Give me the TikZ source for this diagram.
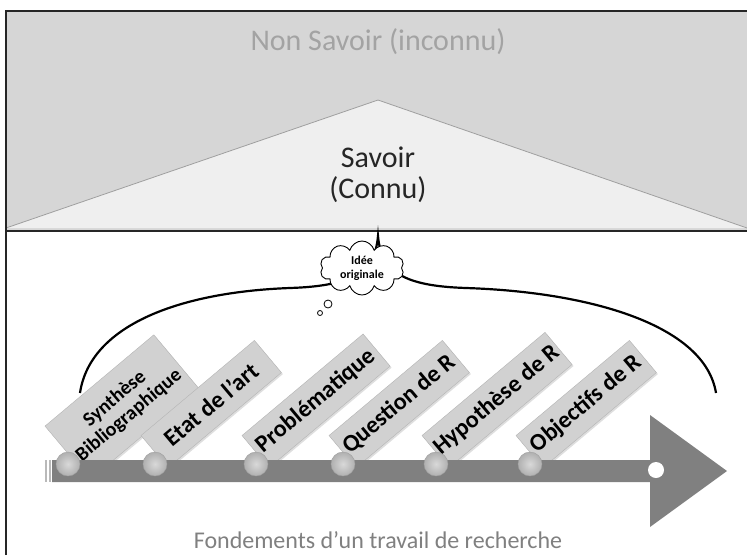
\documentclass[tikz,border=0pt]{standalone}
\usepackage{fontspec}
\setmainfont{Carlito}
\usetikzlibrary{shapes.symbols,shadows}
\definecolor{topgray}{HTML}{D6D6D6}
\definecolor{trifill}{HTML}{EFEFEF}
\definecolor{boxfill}{HTML}{D1D1D1}
\definecolor{boxline}{HTML}{B4B4B4}
\definecolor{arrowgray}{HTML}{808080}
\definecolor{lighttext}{HTML}{A3A3A3}
\begin{document}
\begin{tikzpicture}[x=1pt,y=-1pt,
  stepbox/.style={draw=boxline, fill=boxfill, rotate=40, anchor=south west,
    inner sep=2pt, align=center, font=\bfseries\fontsize{24}{25}\selectfont,
    minimum height=42pt, minimum width=148pt,
    drop shadow={shadow xshift=1.5pt, shadow yshift=-1.5pt, fill=black!25}},
  milestone/.style={circle, minimum size=24pt, inner sep=0pt, draw=gray!75,
    shading=radial, inner color=gray!30, outer color=gray!62},
  bigtext/.style={font=\fontsize{30}{31}\selectfont, align=center}]
\useasboundingbox (0,0) rectangle (747,555);
\fill[white] (0,0) rectangle (747,555);

% upper panel: unknown field and the triangle of knowledge
\fill[topgray] (6,11) rectangle (747,231);
\filldraw[fill=trifill, draw=gray!75, line width=0.8pt] (6,228) -- (378,100) -- (747,228);
\draw[line width=2pt, black!85] (6,555) -- (6,11) -- (747,11);
\draw[line width=2pt, black!85] (6,231) -- (747,231);
\node[bigtext, text=lighttext] (nonsavoir) at (378,42) {Non Savoir (inconnu)};
\node[bigtext, text=black!85] (savoir) at (378,175) {Savoir\\(Connu)};

% curly brace gathering the steps
\draw[line width=2.2pt] (80,393) .. controls (90,325) and (180,292) .. (290,288)
  .. controls (352,286) and (375,272) .. (378,236)
  .. controls (381,272) and (404,286) .. (466,288)
  .. controls (590,292) and (705,325) .. (716,393);

% steps of the research work (their lower corners tuck under the arrow)
\node[stepbox, minimum width=142pt, minimum height=70pt,
  font=\bfseries\fontsize{20}{22}\selectfont] (s1) at (90,480) {Synthèse\\Bibliographique};
\node[stepbox] (s2) at (168,468) {Etat de l'art};
\node[stepbox, minimum width=158pt] (s3) at (269,468) {Problématique};
\node[stepbox] (s4) at (356,468) {Question de R};
\node[stepbox, minimum width=155pt] (s5) at (449,468) {Hypothèse de R};
\node[stepbox] (s6) at (543,468) {Objectifs de R};

% timeline arrow
\fill[arrowgray] (52,460) -- (650,460) -- (650,415) -- (727,471) -- (650,527)
  -- (650,482) -- (52,482) -- cycle;
\draw[gray!55, line width=1.6pt] (46,460) -- (46,482) (50,460) -- (50,482);
\node[circle, fill=white, minimum size=16pt, inner sep=0pt] (enddot) at (656,470) {};

\foreach \n/\x in {1/68,2/155,3/256,4/343,5/436,6/530}
  \node[milestone] (m\n) at (\x,464) {};

% thought bubble
\node[cloud, draw, fill=white, line width=0.9pt, cloud puffs=10, aspect=1.6,
  minimum width=84pt, minimum height=54pt, inner sep=0pt, align=center,
  font=\bfseries\fontsize{12}{14}\selectfont] (idee) at (362,268) {Idée\\originale};
\node[circle, draw, fill=white, line width=0.8pt, minimum size=8pt, inner sep=0pt] (bub1) at (328,304) {};
\node[circle, draw, fill=white, line width=0.8pt, minimum size=5pt, inner sep=0pt] (bub2) at (320,313) {};

\node[font=\fontsize{24}{28}\selectfont, text=arrowgray] (caption) at (378,540)
  {Fondements d’un travail de recherche};
\end{tikzpicture}
\end{document}
